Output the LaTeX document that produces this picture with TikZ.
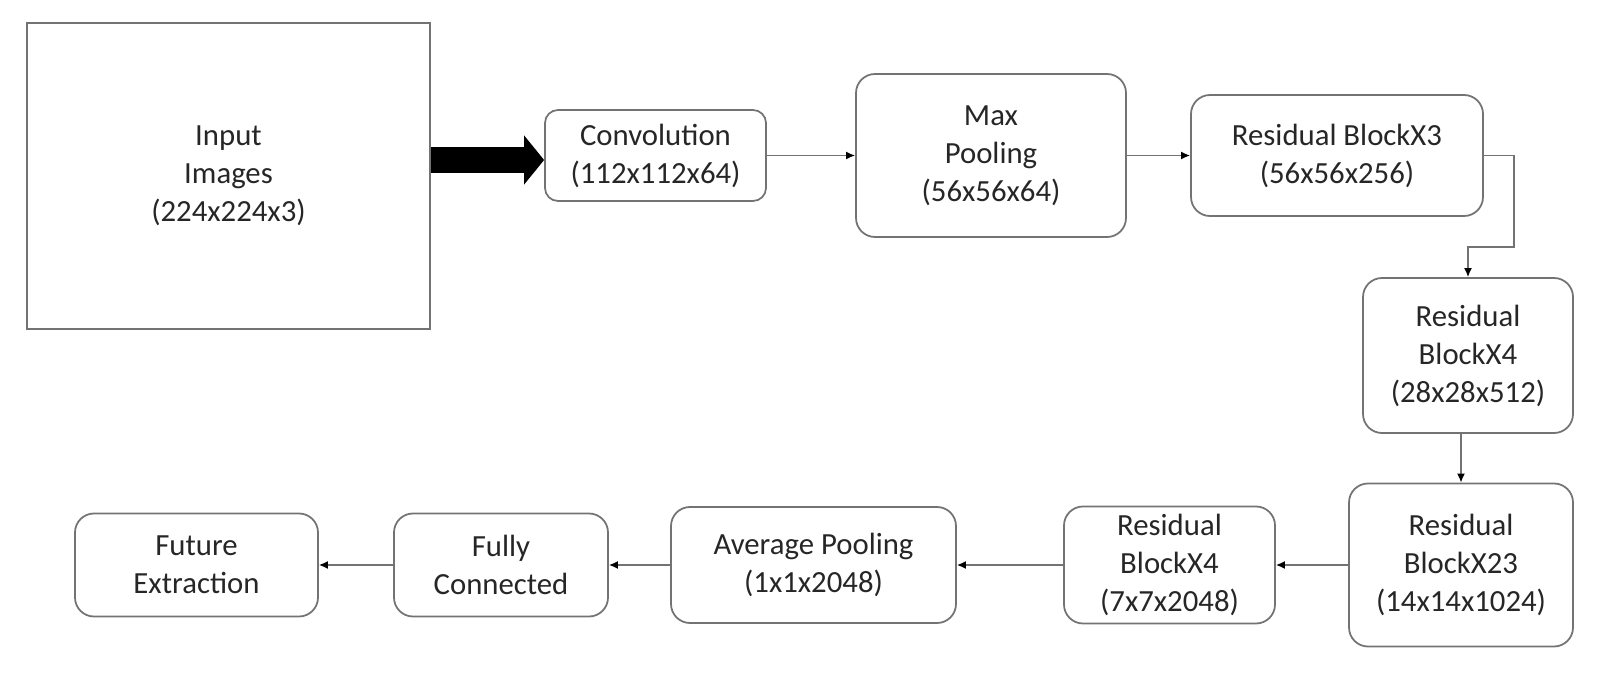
\documentclass[tikz,border=0pt]{standalone}
\usepackage{fontspec}
\setmainfont{Carlito}
\usepackage{tikz}
\usetikzlibrary{arrows.meta}
\tikzset{
  blocco/.style={draw=black!55, line width=1pt, rounded corners=0.38cm, align=center,
    text=black!85, font=\fontsize{17.5}{21.6}\selectfont, inner sep=0pt},
  freccia/.style={draw=black!55, line width=0.9pt, -{Latex[length=0.18cm, width=0.16cm, black]}}
}

\begin{document}
\begin{tikzpicture}
  \useasboundingbox (0,0) rectangle (32.24,-13.72);
  % ingresso
  \node[blocco, rounded corners=0pt, minimum width=8.06cm, minimum height=6.12cm] (inp) at (4.57,-3.52) {Input\\Images\\(224x224x3)};
  % riga superiore
  \node[blocco, rounded corners=0.26cm, minimum width=4.42cm, minimum height=1.82cm] (conv) at (13.11,-3.11) {Convolution\\(112x112x64)};
  \node[blocco, minimum width=5.40cm, minimum height=3.26cm] (maxp) at (19.82,-3.11) {Max\\Pooling\\(56x56x64)};
  \node[blocco, minimum width=5.84cm, minimum height=2.42cm] (rbtre) at (26.74,-3.11) {Residual BlockX3\\(56x56x256)};
  \node[blocco, minimum width=4.20cm, minimum height=3.10cm] (rbquattro) at (29.36,-7.11) {Residual\\BlockX4\\(28x28x512)};
  % riga inferiore
  \node[blocco, minimum width=4.48cm, minimum height=3.26cm] (rbventitre) at (29.22,-11.3) {Residual\\BlockX23\\(14x14x1024)};
  \node[blocco, minimum width=4.22cm, minimum height=2.34cm] (rbfin) at (23.39,-11.3) {Residual\\BlockX4\\(7x7x2048)};
  \node[blocco, minimum width=5.70cm, minimum height=2.32cm] (avgp) at (16.27,-11.3) {Average Pooling\\(1x1x2048)};
  \node[blocco, minimum width=4.28cm, minimum height=2.06cm] (fc) at (10.02,-11.3) {Fully\\Connected};
  \node[blocco, minimum width=4.86cm, minimum height=2.06cm] (fe) at (3.93,-11.3) {Future\\Extraction};
  % frecce
  \draw[line width=0.52cm, -{Triangle[length=0.4cm, width=0.96cm]}] (inp.east |- 0,-3.2) -- (conv.west |- 0,-3.2);
  \coordinate (gomito) at (30.28,-4.94);
  \draw[freccia] (conv) -- (maxp);
  \draw[freccia] (maxp) -- (rbtre);
  \draw[freccia] (rbtre.east) -| (gomito) -| (rbquattro.north);
  \draw[freccia] (rbquattro.south -| rbventitre.north) -- (rbventitre.north);
  \draw[freccia] (rbventitre) -- (rbfin);
  \draw[freccia] (rbfin) -- (avgp);
  \draw[freccia] (avgp) -- (fc);
  \draw[freccia] (fc) -- (fe);
\end{tikzpicture}
\end{document}
